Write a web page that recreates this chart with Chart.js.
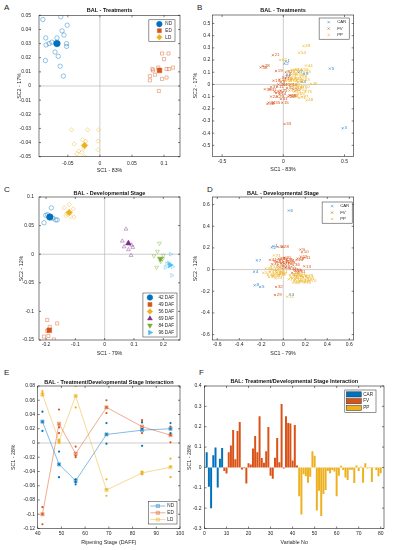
<!DOCTYPE html>
<html>
<head>
<meta charset="utf-8">
<script src="https://cdn.jsdelivr.net/npm/chart.js@4.4.1/dist/chart.umd.min.js"></script>
<style>
  body { margin: 0; width: 394px; height: 550px; background: #fff; position: relative; overflow: hidden; font-family: "Liberation Sans", Arial, sans-serif; }
  canvas { position: absolute; }
  .tag { position: absolute; font-size: 8px; color: #222; }
</style>
</head>
<body>
<div class="tag" style="left:4px;top:3px">A</div>
<div class="tag" style="left:197px;top:3px">B</div>
<div class="tag" style="left:4px;top:185px">C</div>
<div class="tag" style="left:207px;top:185px">D</div>
<div class="tag" style="left:4px;top:368px">E</div>
<div class="tag" style="left:199px;top:368px">F</div>
<script>
const FONT = '"Liberation Sans", Arial, sans-serif';
const BLUE = '#0072BD', ORANGE = '#D95319', YELLOW = '#EDB120', PURPLE = '#7E2F8E', GREEN = '#77AC30', CYAN = '#4DBEEE';

// ---- A: treatments, scores
const ndX = [-0.089, -0.061, -0.0845, -0.075, -0.079, -0.084, -0.067, -0.059, -0.051, -0.056, -0.052, -0.052, -0.070, -0.065, -0.085, -0.062, -0.057];
const ndY = [0.047, 0.049, 0.034, 0.031, 0.030, 0.029, 0.034, 0.039, 0.043, 0.036, 0.030, 0.028, 0.024, 0.021, 0.018, 0.014, 0.007];
const edX = [0.097, 0.107, 0.100, 0.091, 0.082, 0.083, 0.114, 0.108, 0.104, 0.086, 0.078, 0.078, 0.104, 0.097, 0.092];
const edY = [0.023, 0.023, 0.019, 0.013, 0.012, 0.011, 0.013, 0.012, 0.012, 0.008, 0.007, 0.004, 0.006, 0.005, -0.0035];
const ldX = [-0.044, -0.019, -0.002, -0.027, -0.022, -0.003, -0.040, -0.003, -0.033, -0.036, -0.028, -0.024, -0.025];
const ldY = [-0.031, -0.031, -0.031, -0.038, -0.039, -0.039, -0.041, -0.045, -0.046, -0.048, -0.047, -0.050, -0.044];
const aMeanX = [-0.067, 0.093, -0.024];
const aMeanY = [0.030, 0.011, -0.042];
const treatments = ['ND', 'ED', 'LD'];

// ---- B: treatments, loadings
const groups = ['CAR', 'FV', 'PP'];
const seq = (a, b) => Array.from({length: b - a + 1}, (_, i) => a + i);
const carNo = seq(1, 8), fvNo = seq(9, 42), ppNo = seq(43, 80);
const bCarX = [0.02, 0.01, 0.485, 0.15, 0.38, 0.03, 0.125, 0.17];
const bCarY = [0.19, 0.17, -0.36, 0.02, 0.13, 0.08, 0.10, 0.085];
const bFvX = [-0.02, 0.02, -0.05, 0.03, -0.08, -0.03, -0.01, 0.06, -0.06, 0.05, -0.06, 0.0, -0.085, 0.04, -0.04, -0.1, -0.02, 0.08, -0.03, -0.165, -0.05, 0.06, -0.11, -0.07, 0.01, -0.12, -0.08, -0.13, -0.1, -0.185, -0.15, 0.0, -0.02, 0.02];
const bFvY = [0.02, 0.05, -0.02, -0.03, 0.03, -0.08, -0.15, 0.0, -0.07, -0.09, 0.11, 0.06, 0.24, -0.1, 0.0, -0.1, -0.05, -0.04, 0.04, 0.15, -0.1, -0.09, -0.04, -0.06, -0.325, -0.15, -0.15, -0.16, -0.02, 0.14, -0.04, 0.0, -0.12, 0.1];
const bPpX = [0.17, 0.185, 0.1, 0.225, 0.12, 0.19, 0.165, 0.06, 0.08, 0.14, 0.05, 0.13, 0.09, 0.15, 0.04, 0.11, 0.07, 0.16, 0.03, -0.025, 0.16, 0.1, 0.12, 0.06, 0.02, 0.14, 0.08, 0.05, 0.11, 0.13, 0.09, 0.04, 0.18, 0.07, 0.15, 0.1, 0.06, 0.12];
const bPpY = [0.1, 0.155, 0.05, 0.005, -0.02, -0.13, 0.315, 0.03, 0.12, -0.04, 0.07, 0.26, -0.06, 0.12, 0.04, 0.08, -0.1, -0.02, 0.0, 0.2, 0.04, 0.12, -0.08, 0.09, 0.03, 0.06, 0.0, -0.05, 0.03, -0.11, 0.1, 0.11, -0.06, 0.05, -0.1, -0.03, -0.02, 0.02];

// ---- C: developmental stage, scores
const stages = ['42 DAF', '49 DAF', '56 DAF', '69 DAF', '84 DAF', '96 DAF'];
const c42X = [-0.182, -0.201, -0.195, -0.177, -0.167, -0.162, -0.207];
const c42Y = [0.081, 0.068, 0.069, 0.063, 0.060, 0.060, 0.055];
const c49X = [-0.196, -0.162, -0.187, -0.196, -0.192, -0.207, -0.173];
const c49Y = [-0.115, -0.121, -0.127, -0.134, -0.143, -0.144, -0.149];
const c56X = [-0.121, -0.138, -0.107, -0.130, -0.132, -0.116, -0.105];
const c56Y = [0.087, 0.081, 0.079, 0.071, 0.067, 0.066, 0.065];
const c69X = [0.073, 0.060, 0.092, 0.066, 0.081, 0.096, 0.090];
const c69Y = [0.044, 0.023, 0.016, 0.013, 0.008, 0.012, -0.002];
const c84X = [0.187, 0.180, 0.168, 0.200, 0.191, 0.177, 0.198];
const c84Y = [0.019, 0.005, -0.003, -0.002, -0.013, -0.023, -0.008];
const c96X = [0.225, 0.212, 0.232, 0.207, 0.229, 0.218];
const c96Y = [0.000, -0.017, -0.022, -0.023, -0.037, -0.015];
const cMeanX = [-0.187, -0.189, -0.121, 0.081, 0.190, 0.223];
const cMeanY = [0.065, -0.133, 0.073, 0.019, -0.008, -0.019];

// ---- D: developmental stage, loadings
const dCarX = [-0.09, -0.105, 0.06, -0.265, -0.21, 0.05, -0.24, -0.26];
const dCarY = [0.215, 0.205, -0.23, -0.02, -0.16, 0.545, 0.085, -0.145];
const dFvX = [0.155, 0.17, 0.19, 0.16, 0.19, 0.12, 0.13, 0.02, -0.02, 0.11, -0.04, 0.01, -0.06, 0.0, -0.03, 0.04, 0.08, -0.08, 0.02, -0.01, -0.075, 0.1, 0.14, -0.065, 0.06, -0.05, 0.03, 0.09, -0.1, 0.05, -0.02, -0.05, -0.12, 0.0];
const dFvY = [0.185, 0.16, 0.11, 0.12, 0.03, 0.09, 0.1, 0.05, 0.06, -0.01, 0.1, 0.11, 0.07, 0.03, 0.02, 0.08, -0.03, 0.08, 0.02, 0.21, -0.235, 0.0, -0.02, -0.16, 0.01, 0.04, 0.09, 0.04, 0.05, 0.06, 0.1, 0.21, 0.09, 0.07];
const dPpX = [-0.12, -0.1, -0.08, -0.14, -0.06, -0.04, -0.16, -0.09, -0.02, -0.11, -0.07, -0.05, -0.13, -0.03, -0.18, -0.06, 0.08, 0.12, 0.15, 0.18, 0.1, 0.2, 0.22, 0.06, 0.14, 0.09, 0.17, 0.24, -0.085, 0.035, 0.11, 0.05, 0.13, 0.16, 0.07, 0.19, 0.21, 0.1];
const dPpY = [-0.02, 0.0, -0.04, -0.05, -0.01, -0.05, 0.01, -0.06, -0.02, 0.03, -0.08, 0.02, -0.07, -0.04, -0.03, -0.03, -0.08, -0.06, -0.1, -0.07, -0.11, -0.09, -0.08, -0.05, -0.04, -0.12, -0.11, -0.1, 0.13, -0.25, -0.09, -0.09, -0.08, -0.06, -0.07, -0.12, -0.06, -0.05];

// ---- E: interaction over ripening stage
const daff = [42, 49, 56, 69, 84, 96];
const ndMean = [0.030, -0.030, -0.053, 0.012, 0.018, 0.020];
const edMean = [-0.100, 0.027, -0.015, 0.050, 0.023, 0.011];
const ldMean = [0.068, 0.003, 0.066, -0.066, -0.042, -0.034];
const ndRep = [[0.044, 0.030, 0.017], [-0.012, -0.030, -0.048], [-0.051, -0.055, -0.058], [0.028, 0.012, -0.001], [0.029, 0.020, -0.004], [0.028, 0.020, 0.014]];
const edRep = [[-0.090, -0.100, -0.114], [0.047, 0.022, 0.014], [-0.005, -0.018, -0.020], [0.060, 0.050, 0.042], [0.032, 0.029, 0.014], [0.023, 0.011, 0.001]];
const ldRep = [[0.073, 0.070, 0.067], [0.004, 0.000, 0.002], [0.080, 0.066, 0.050], [-0.051, -0.065, -0.074], [-0.040, -0.042, -0.044], [-0.022, -0.033, -0.048]];

// ---- F: interaction loadings per variable
const fCar = [0.074, -0.095, -0.2, 0.06, 0.098, -0.098, 0.043, 0.095];
const fFv = [-0.018, -0.03, 0.075, 0.108, 0.184, 0.04, 0.179, 0.223, -0.01, -0.004, -0.079, 0.02, 0.015, 0.093, 0.154, 0.074, 0.252, 0.046, 0.023, 0.08, 0.198, -0.041, -0.056, 0.048, 0.144, 0.026, 0.311, -0.005, 0.252, 0.218, 0.216, 0.034, 0.208, 0.01];
const fPp = [-0.141, -0.231, -0.034, -0.043, -0.075, -0.046, 0.079, 0.057, -0.211, -0.115, -0.239, -0.131, -0.111, -0.018, -0.028, -0.013, -0.02, -0.141, -0.041, 0.008, -0.013, -0.049, -0.062, -0.011, -0.011, -0.077, 0.01, -0.018, 0.003, -0.075, 0.021, -0.005, -0.003, -0.072, -0.002, -0.013, -0.043, -0.028];

Chart.defaults.font.family = FONT;

const pts = (xs, ys) => xs.map((x, i) => ({x, y: ys[i]}));
function fade(hex, a) {
  const n = parseInt(hex.slice(1), 16);
  return `rgba(${n >> 16},${(n >> 8) & 255},${n & 255},${a})`;
}

// box round the axes, zero lines and inward ticks (matlab look)
const frame = {
  id: 'frame',
  beforeDatasetsDraw(chart, args, o) {
    const {ctx, chartArea: a, scales: {x, y}} = chart;
    ctx.save();
    ctx.strokeStyle = '#b8b8b8';
    ctx.lineWidth = 0.7;
    ctx.beginPath();
    if (o.zeroX) { const p = x.getPixelForValue(0); ctx.moveTo(p, a.top); ctx.lineTo(p, a.bottom); }
    if (o.zeroY) { const p = y.getPixelForValue(0); ctx.moveTo(a.left, p); ctx.lineTo(a.right, p); }
    ctx.stroke();
    ctx.restore();
  },
  afterDatasetsDraw(chart) {
    const {ctx, chartArea: a, scales: {x, y}} = chart;
    ctx.save();
    ctx.strokeStyle = '#262626';
    ctx.lineWidth = 0.6;
    ctx.strokeRect(a.left, a.top, a.right - a.left, a.bottom - a.top);
    ctx.beginPath();
    x.ticks.forEach(t => {
      const p = x.getPixelForValue(t.value);
      ctx.moveTo(p, a.bottom); ctx.lineTo(p, a.bottom - 2);
      ctx.moveTo(p, a.top); ctx.lineTo(p, a.top + 2);
    });
    y.ticks.forEach(t => {
      const p = y.getPixelForValue(t.value);
      ctx.moveTo(a.left, p); ctx.lineTo(a.left + 2, p);
      ctx.moveTo(a.right, p); ctx.lineTo(a.right - 2, p);
    });
    ctx.stroke();
    ctx.restore();
  }
};

// variable numbers next to the loading markers
const numLabels = {
  id: 'numLabels',
  afterDatasetsDraw(chart) {
    const {ctx} = chart;
    ctx.save();
    ctx.font = '4.4px ' + FONT;
    ctx.textBaseline = 'middle';
    chart.data.datasets.forEach((ds, i) => {
      if (!ds.nums) return;
      ctx.fillStyle = ds.borderColor;
      chart.getDatasetMeta(i).data.forEach((el, j) => ctx.fillText(ds.nums[j], el.x + 1.8, el.y));
    });
    ctx.restore();
  }
};

// legend box inside the axes
const boxLegend = {
  id: 'boxLegend',
  afterDraw(chart, args, o) {
    const items = chart.data.datasets.filter(d => d.legendLabel);
    if (!items.length || o.row == null) return;
    const {ctx, chartArea: a} = chart;
    ctx.save();
    ctx.font = (o.size || 4.6) + 'px ' + FONT;
    const tw = Math.max(...items.map(d => ctx.measureText(d.legendLabel).width));
    const w = o.tx + tw + 3, h = items.length * o.row + 2;
    const x0 = a.right - o.right - w;
    const y0 = o.top != null ? a.top + o.top : a.bottom - o.bottom - h;
    ctx.fillStyle = '#fff';
    ctx.fillRect(x0, y0, w, h);
    ctx.strokeStyle = '#262626';
    ctx.lineWidth = 0.5;
    ctx.strokeRect(x0, y0, w, h);
    items.forEach((d, i) => {
      const cy = y0 + 1 + o.row * (i + 0.5);
      ctx.fillStyle = d.backgroundColor;
      ctx.strokeStyle = d.borderColor;
      if (o.kind === 'bar') {
        ctx.lineWidth = 0.5;
        ctx.fillRect(x0 + 1.5, cy - 2.6, 15, 5.2);
        ctx.strokeStyle = '#333';
        ctx.strokeRect(x0 + 1.5, cy - 2.6, 15, 5.2);
      } else {
        if (o.kind === 'line') {
          ctx.lineWidth = d.borderWidth;
          ctx.beginPath(); ctx.moveTo(x0 + 2, cy); ctx.lineTo(x0 + o.tx - 2, cy); ctx.stroke();
        }
        ctx.lineWidth = d.pointBorderWidth || 1;
        Chart.helpers.drawPoint(ctx, {pointStyle: d.pointStyle, radius: d.legendRadius || d.pointRadius,
          rotation: d.pointRotation || 0, borderWidth: d.pointBorderWidth || 1}, x0 + o.mx, cy);
      }
      ctx.fillStyle = '#262626';
      ctx.textBaseline = 'middle';
      ctx.textAlign = 'left';
      ctx.fillText(d.legendLabel, x0 + o.tx, cy);
    });
    ctx.restore();
  }
};

function axis(r, horizontal, size, pad, titlePad) {
  return {
    type: 'linear', min: r[0], max: r[1], offset: false,
    grid: {display: false, drawTicks: false},
    border: {display: false},
    ticks: {stepSize: r[2], includeBounds: false, autoSkip: false, maxRotation: 0, padding: pad,
      font: {size: 5}, color: '#262626', callback: v => String(+(+v).toFixed(4))},
    title: {display: true, text: r[3], color: '#262626', font: {size: 5.3, lineHeight: 1}, padding: titlePad},
    afterFit: s => { if (horizontal) s.height = size; else s.width = size; }
  };
}

// place one canvas so that its plot area lands on the box g
function panel(g, type, datasets, xr, yr, plugins, pluginOpts) {
  const left = Math.floor(g.yt - 3.5), top = Math.max(0, Math.floor(g.T - 14));
  const right = Math.ceil(g.R + 8), bottom = Math.min(550, Math.ceil(g.xt + 4));
  const w = right - left, h = bottom - top;
  const cv = document.createElement('canvas');
  cv.width = w; cv.height = h;
  Object.assign(cv.style, {left: left + 'px', top: top + 'px', width: w + 'px', height: h + 'px'});
  document.body.appendChild(cv);
  const padTop = g.ty - top - 2.75;
  return new Chart(cv, {
    type,
    data: {datasets},
    options: {
      responsive: false,
      animation: false,
      layout: {padding: {left: 0, top: 0, bottom: 0, right: right - g.R}},
      scales: {
        x: axis(xr, true, bottom - g.B, g.xk - g.B - 3, {top: 0, bottom: bottom - g.xt - 2.65}),
        y: axis(yr, false, g.L - left, g.yp, {top: g.yt - left - 2.65, bottom: 0})
      },
      plugins: Object.assign({
        legend: {display: false},
        tooltip: {enabled: false},
        title: {display: true, text: g.title, fullSize: false, color: '#111',
          font: {size: 5.5, weight: 'bold', lineHeight: 1},
          padding: {top: padTop, bottom: g.T - g.ty - 2.75}}
      }, pluginOpts)
    },
    plugins: [frame, boxLegend].concat(plugins)
  });
}

function open(xs, ys, color, style, rot) {
  return {data: pts(xs, ys), pointStyle: style, pointRotation: rot || 0, pointRadius: 2.2, pointBorderWidth: 0.7,
    borderColor: fade(color, 0.6), backgroundColor: 'rgba(0,0,0,0)'};
}
function mean(x, y, color, style, rot, label) {
  return {data: [{x, y}], pointStyle: style, pointRotation: rot || 0, pointRadius: 3.3, pointBorderWidth: 0.5,
    borderColor: color, backgroundColor: color, legendLabel: label, legendRadius: 2.8};
}
function loads(xs, ys, nums, color, label) {
  return {data: pts(xs, ys), nums, pointStyle: 'crossRot', pointRadius: 1.5, pointBorderWidth: 0.6,
    borderColor: color, backgroundColor: color, legendLabel: label, legendRadius: 1.5};
}
function trend(means, color, label) {
  return {data: pts(daff, means), showLine: true, borderColor: fade(color, 0.6), borderWidth: 0.8,
    pointStyle: 'rect', pointRadius: 2.3, pointBorderWidth: 0.6, backgroundColor: fade(color, 0.25), legendLabel: label};
}
function cross(means, color) {
  return {data: pts(daff, means), pointStyle: 'crossRot', pointRadius: 1.6, pointBorderWidth: 0.6, borderColor: color, backgroundColor: color};
}
function reps(rep, color) {
  return {data: daff.flatMap((d, i) => rep[i].map(v => ({x: d, y: v}))), pointStyle: 'circle', pointRadius: 1.1,
    pointBorderWidth: 0, borderColor: color, backgroundColor: color};
}
function bars(vars, vals, color, label) {
  return {data: pts(vars, vals), backgroundColor: color, borderColor: color, borderWidth: 0,
    barPercentage: 0.9, categoryPercentage: 1, grouped: false, legendLabel: label};
}

const G = {
  A: {L: 39, T: 15.3, R: 180, B: 156.7, ty: 10.8, yt: 19.3, yp: 8, xk: 163.5, xt: 171, title: 'BAL - Treatments'},
  B: {L: 212.3, T: 15, R: 353.7, B: 156.3, ty: 10.5, yt: 195.5, yp: 2, xk: 161.7, xt: 170, title: 'BAL - Treatments'},
  C: {L: 39, T: 197, R: 180, B: 340, ty: 193, yt: 21.7, yp: 5, xk: 345, xt: 353.3, title: 'BAL - Developmental Stage'},
  D: {L: 212.3, T: 197, R: 353.7, B: 340, ty: 193.5, yt: 195.5, yp: 2.6, xk: 345, xt: 353.3, title: 'BAL - Developmental Stage'},
  E: {L: 37.7, T: 386, R: 180, B: 528.5, ty: 382, yt: 13.3, yp: 2.7, xk: 534, xt: 542.5, title: 'BAL - Treatment/Developmental Stage Interaction'},
  F: {L: 204.5, T: 386, R: 384, B: 528.5, ty: 381.7, yt: 190, yp: 3, xk: 533.5, xt: 542.5, title: 'BAL: Treatment/Developmental Stage Interaction'}
};
const CARBLUE = '#2a86cc';

panel(G.A, 'scatter', [
  open(ndX, ndY, BLUE, 'circle'),
  open(edX, edY, ORANGE, 'rect'),
  open(ldX, ldY, YELLOW, 'rectRot'),
  mean(aMeanX[0], aMeanY[0], BLUE, 'circle', 0, treatments[0]),
  mean(aMeanX[1], aMeanY[1], ORANGE, 'rect', 0, treatments[1]),
  mean(aMeanX[2], aMeanY[2], YELLOW, 'rectRot', 0, treatments[2])
], [-0.095, 0.125, 0.05, 'SC1 - 83%'], [-0.05, 0.05, 0.01, 'SC2 - 17%'], [],
  {frame: {zeroX: true, zeroY: true}, boxLegend: {right: 5, top: 4.5, mx: 10.5, tx: 16.5, row: 6.6}});

panel(G.B, 'scatter', [
  loads(bCarX, bCarY, carNo, CARBLUE, groups[0]),
  loads(bFvX, bFvY, fvNo, ORANGE, groups[1]),
  loads(bPpX, bPpY, ppNo, YELLOW, groups[2])
], [-0.58, 0.575, 0.5, 'SC1 - 83%'], [-0.59, 0.57, 0.1, 'SC2 - 17%'], [numLabels],
  {frame: {zeroX: true, zeroY: true}, boxLegend: {right: 4.5, top: 3, mx: 9.5, tx: 18, row: 6.4, size: 4.3}});

panel(G.C, 'scatter', [
  open(c42X, c42Y, BLUE, 'circle'),
  open(c49X, c49Y, ORANGE, 'rect'),
  open(c56X, c56Y, YELLOW, 'rectRot'),
  open(c69X, c69Y, PURPLE, 'triangle'),
  open(c84X, c84Y, GREEN, 'triangle', 180),
  open(c96X, c96Y, CYAN, 'triangle', 90),
  mean(cMeanX[0], cMeanY[0], BLUE, 'circle', 0, stages[0]),
  mean(cMeanX[1], cMeanY[1], ORANGE, 'rect', 0, stages[1]),
  mean(cMeanX[2], cMeanY[2], YELLOW, 'rectRot', 0, stages[2]),
  mean(cMeanX[3], cMeanY[3], PURPLE, 'triangle', 0, stages[3]),
  mean(cMeanX[4], cMeanY[4], GREEN, 'triangle', 180, stages[4]),
  mean(cMeanX[5], cMeanY[5], CYAN, 'triangle', 90, stages[5])
], [-0.224, 0.257, 0.1, 'SC1 - 79%'], [-0.15, 0.1, 0.05, 'SC2 - 12%'], [],
  {frame: {zeroX: true, zeroY: true}, boxLegend: {right: 3, bottom: 3, mx: 7, tx: 15.5, row: 7}});

panel(G.D, 'scatter', [
  loads(dCarX, dCarY, carNo, CARBLUE, groups[0]),
  loads(dFvX, dFvY, fvNo, ORANGE, groups[1]),
  loads(dPpX, dPpY, ppNo, YELLOW, groups[2])
], [-0.645, 0.64, 0.2, 'SC1 - 79%'], [-0.65, 0.67, 0.2, 'SC2 - 12%'], [numLabels],
  {frame: {zeroX: true, zeroY: true}, boxLegend: {right: 1.5, top: 5, mx: 10, tx: 18, row: 6.4, size: 4.3}});

panel(G.E, 'scatter', [
  reps(ndRep, BLUE), reps(edRep, ORANGE), reps(ldRep, YELLOW),
  trend(ndMean, BLUE, treatments[0]),
  trend(edMean, ORANGE, treatments[1]),
  trend(ldMean, YELLOW, treatments[2]),
  cross(ndMean, BLUE), cross(edMean, ORANGE), cross(ldMean, YELLOW)
], [40, 100, 10, 'Ripening Stage (DAFF)'], [-0.12, 0.08, 0.02, 'SC1 - 28%'], [],
  {frame: {zeroY: true}, boxLegend: {right: 3, bottom: 4.5, mx: 9.5, tx: 19, row: 6.8, kind: 'line'}});

panel(G.F, 'bar', [
  bars(carNo, fCar, BLUE, groups[0]),
  bars(fvNo, fFv, ORANGE, groups[1]),
  bars(ppNo, fPp, YELLOW, groups[2])
], [0, 81.5, 10, 'Variable No'], [-0.3, 0.4, 0.1, 'SC1 - 28%'], [],
  {boxLegend: {right: 8, top: 4, tx: 18.5, row: 6.8, kind: 'bar'}});
</script>
</body>
</html>
